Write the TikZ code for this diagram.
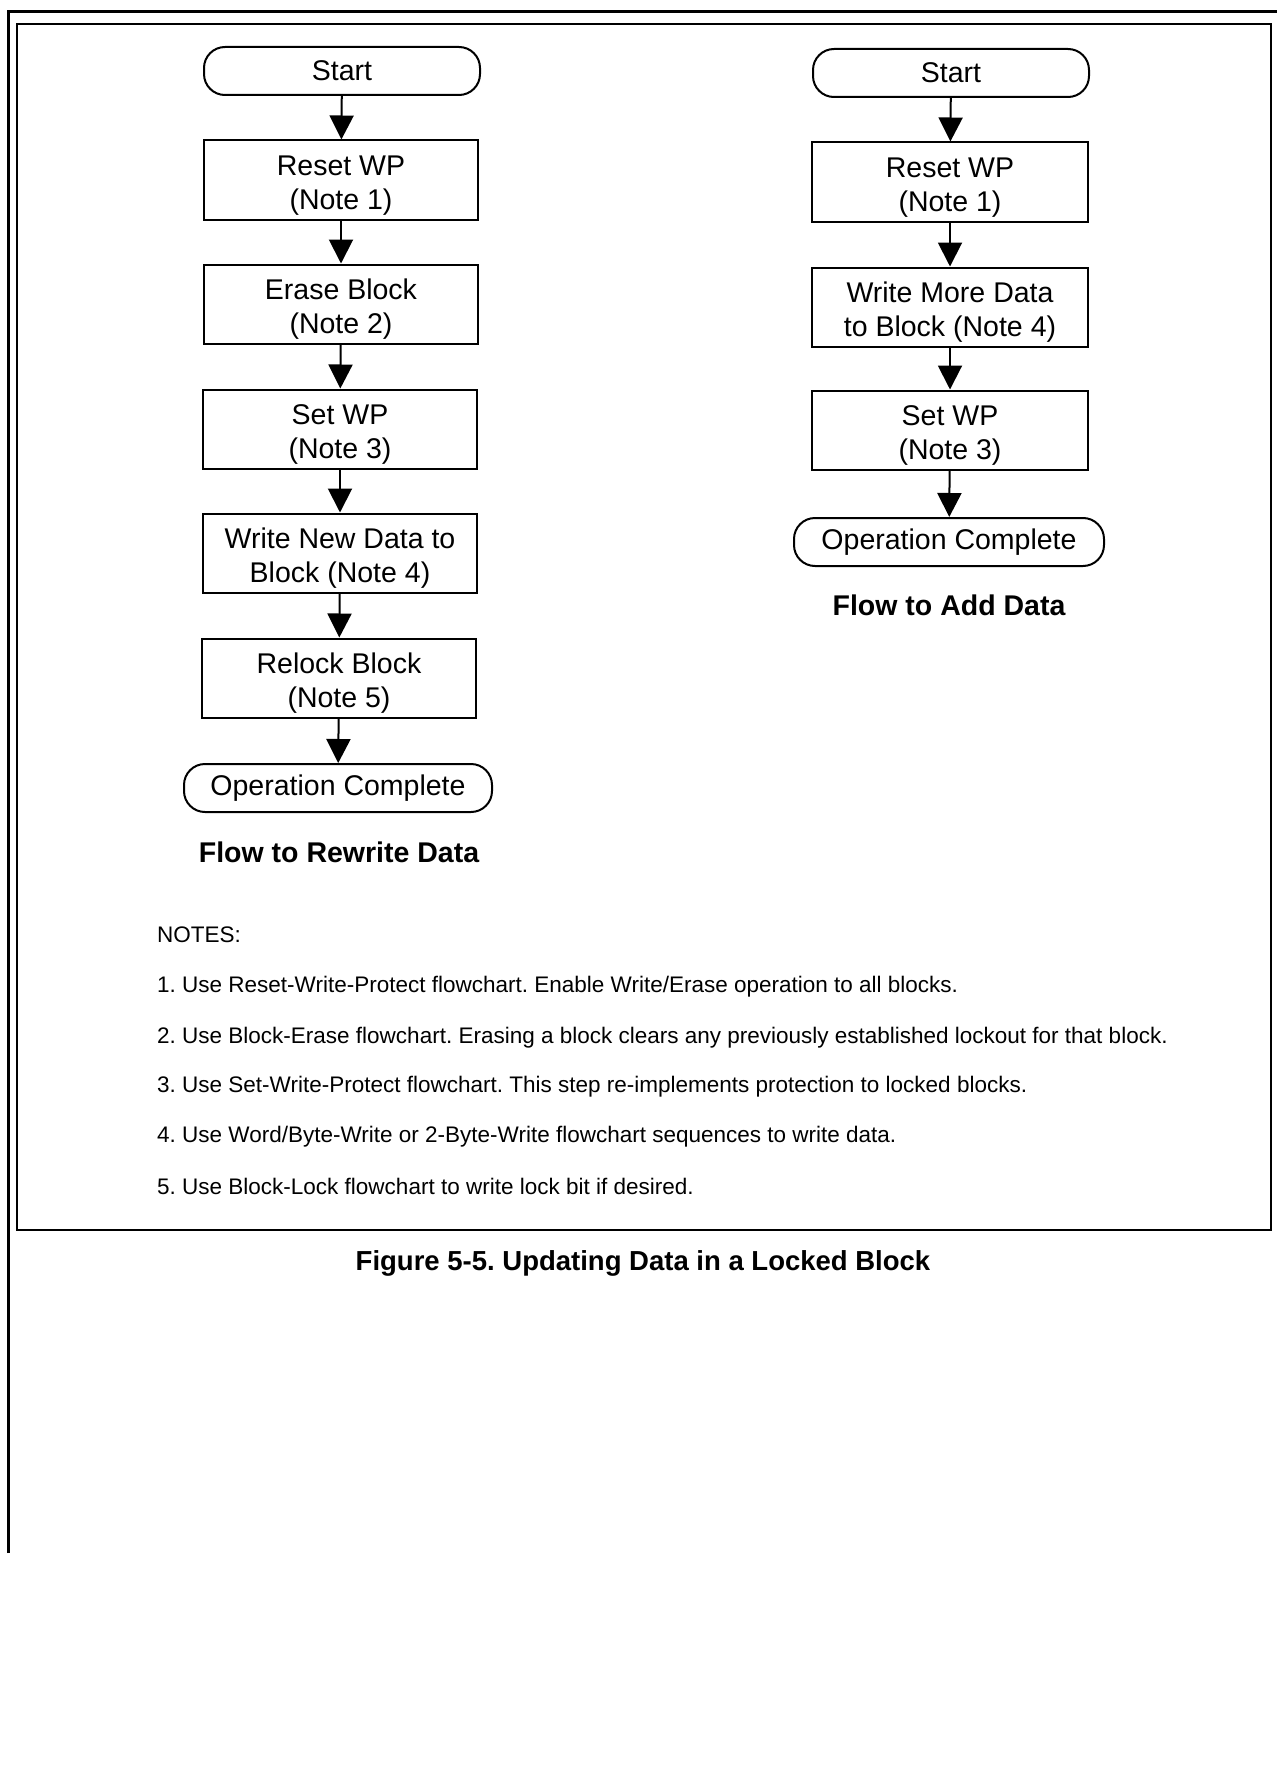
\documentclass[tikz,border=0pt]{standalone}
\usepackage{fontspec}
\setmainfont{Liberation Sans}
\usetikzlibrary{arrows.meta}

\begin{document}
\frenchspacing
\begin{tikzpicture}[x=1pt, y=-1pt,
  shp/.style={draw, line width=2pt, align=center, inner sep=0pt, minimum width=274pt, minimum height=79pt, font=\fontsize{28.5}{34}\selectfont},
  box/.style={shp, execute at begin node={\rule{0pt}{64pt}}},
  term/.style={shp, rounded corners=21pt, minimum height=48pt},
  arr/.style={-{Triangle[length=24pt, width=24pt]}, line width=2pt},
  ttl/.style={font=\fontsize{28.5}{34}\selectfont\bfseries},
  note/.style={anchor=west, inner sep=0pt, font=\fontsize{22.5}{27}\selectfont}
]
\useasboundingbox (0,0) rectangle (1277,1790);
% frame
\draw[line width=3pt] (8,1553) -- (8,12) -- (1277,12);
\draw[line width=2pt] (17,24) rectangle (1271,1230);

% flow to rewrite data
\node[term, minimum width=276pt] (start1) at (342,71) {Start};
\node[box] (reset1) at (341,180) {Reset WP\\(Note 1)};
\node[box] (erase1) at (341,304) {Erase Block\\(Note 2)};
\node[box] (set1) at (340,429) {Set WP\\(Note 3)};
\node[box] (write1) at (340,553) {Write New Data to\\Block (Note 4)};
\node[box] (relock1) at (339,678) {Relock Block\\(Note 5)};
\node[term, minimum width=308pt] (done1) at (338,788) {Operation Complete};
\node[ttl] (title1) at (339,852) {Flow to Rewrite Data};
\draw[arr] (start1) -- (reset1);
\draw[arr] (reset1) -- (erase1);
\draw[arr] (erase1) -- (set1);
\draw[arr] (set1) -- (write1);
\draw[arr] (write1) -- (relock1);
\draw[arr] (relock1) -- (done1);

% flow to add data
\node[term, minimum width=276pt] (start2) at (951,73) {Start};
\node[box, minimum width=276pt] (reset2) at (950,182) {Reset WP\\(Note 1)};
\node[box, minimum width=276pt] (write2) at (950,307) {Write More Data\\to Block (Note 4)};
\node[box, minimum width=276pt] (set2) at (950,430) {Set WP\\(Note 3)};
\node[term, minimum width=310pt] (done2) at (949,542) {Operation Complete};
\node[ttl] (title2) at (949,605) {Flow to Add Data};
\draw[arr] (start2) -- (reset2);
\draw[arr] (reset2) -- (write2);
\draw[arr] (write2) -- (set2);
\draw[arr] (set2) -- (done2);

% notes
\node[note] (notes) at (157,935) {NOTES:};
\node[note] (n1) at (157,987) {1. Use Reset-Write-Protect flowchart. Enable Write/Erase operation to all blocks.};
\node[note] (n2) at (157,1038) {2. Use Block-Erase flowchart. Erasing a block clears any previously established lockout for that block.};
\node[note] (n3) at (157,1087) {3. Use Set-Write-Protect flowchart. This step re-implements protection to locked blocks.};
\node[note] (n4) at (157,1137) {4. Use Word/Byte-Write or 2-Byte-Write flowchart sequences to write data.};
\node[note] (n5) at (157,1186) {5. Use Block-Lock flowchart to write lock bit if desired.};

\node[ttl, font=\fontsize{27.5}{33}\selectfont\bfseries] (caption) at (643,1263) {Figure 5-5. Updating Data in a Locked Block};
\end{tikzpicture}
\end{document}
